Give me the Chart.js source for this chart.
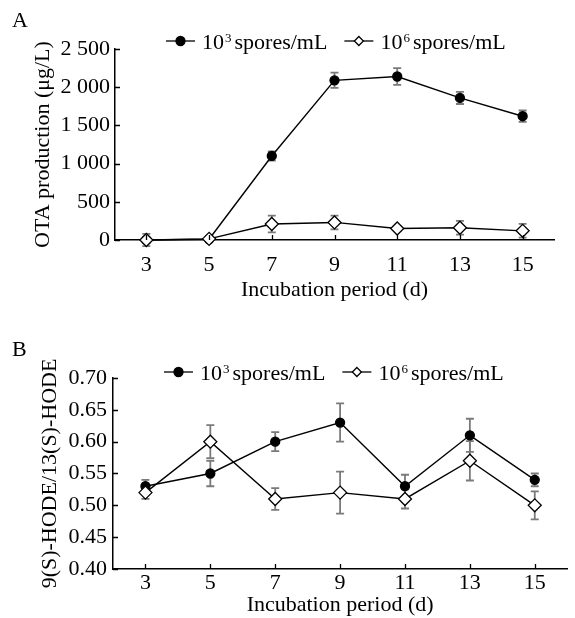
<!DOCTYPE html>
<html>
<head>
<meta charset="utf-8">
<script src="https://cdn.jsdelivr.net/npm/chart.js@4.4.1/dist/chart.umd.min.js"></script>
<style>
  body { margin: 0; background: #fff; width: 575px; height: 618px; position: relative; overflow: hidden; }
  .panel { position: absolute; left: 0; width: 575px; }
</style>
</head>
<body>
<div class="panel" style="top:0;height:305px"><canvas id="chartA"></canvas></div>
<div class="panel" style="top:310px;height:308px"><canvas id="chartB"></canvas></div>
<script>
// incubation days
var days = [3, 5, 7, 9, 11, 13, 15];

// panel A: OTA production (ug/L)
var otaLow = [0, 10, 1100, 2090, 2140, 1860, 1620];
var otaLowErr = [30, 20, 60, 100, 110, 80, 75];
var otaHigh = [0, 15, 210, 230, 150, 160, 120];
var otaHighErr = [80, 30, 110, 90, 30, 90, 90];
var otaTicks = [0, 500, 1000, 1500, 2000, 2500];
var otaTickLabels = ['0', '500', '1 000', '1 500', '2 000', '2 500'];

// panel B: 9(S)-HODE/13(S)-HODE ratio
var ratioLow = [0.53, 0.55, 0.60, 0.63, 0.53, 0.61, 0.54];
var ratioLowErr = [0.01, 0.02, 0.015, 0.03, 0.018, 0.026, 0.01];
var ratioHigh = [0.52, 0.60, 0.51, 0.52, 0.51, 0.57, 0.50];
var ratioHighErr = [0.01, 0.026, 0.017, 0.033, 0.015, 0.031, 0.022];
var ratioTicks = [0.40, 0.45, 0.50, 0.55, 0.60, 0.65, 0.70];
var ratioTickLabels = ['0.40', '0.45', '0.50', '0.55', '0.60', '0.65', '0.70'];

// legend text: base, superscript, rest
var legendLow = ['10', '3', 'spores/mL'];
var legendHigh = ['10', '6', 'spores/mL'];

var FONT = '"Liberation Serif", "Times New Roman", serif';

function drawMarker(ctx, kind, x, y, r) {
  ctx.save();
  ctx.lineWidth = 1.3;
  ctx.strokeStyle = '#000';
  ctx.beginPath();
  if (kind === 'circle') {
    ctx.arc(x, y, r, 0, Math.PI * 2);
    ctx.fillStyle = '#000';
  } else {
    ctx.moveTo(x, y - r);
    ctx.lineTo(x + r, y);
    ctx.lineTo(x, y + r);
    ctx.lineTo(x - r, y);
    ctx.closePath();
    ctx.fillStyle = '#fff';
  }
  ctx.fill();
  ctx.stroke();
  ctx.restore();
}

var decor = {
  id: 'decor',
  // error bars, drawn under the markers
  beforeDatasetsDraw: function(chart) {
    var ctx = chart.ctx, xs = chart.scales.x, ys = chart.scales.y;
    ctx.save();
    ctx.strokeStyle = '#7a7a7a';
    ctx.lineWidth = 1.8;
    chart.data.datasets.forEach(function(ds) {
      ds.data.forEach(function(p, i) {
        var px = xs.getPixelForValue(p.x);
        var top = ys.getPixelForValue(p.y + ds.errors[i]);
        var bot = ys.getPixelForValue(p.y - ds.errors[i]);
        ctx.beginPath();
        ctx.moveTo(px, top); ctx.lineTo(px, bot);
        ctx.moveTo(px - 4, top); ctx.lineTo(px + 4, top);
        ctx.moveTo(px - 4, bot); ctx.lineTo(px + 4, bot);
        ctx.stroke();
      });
    });
    ctx.restore();
  },
  afterDraw: function(chart, args, opts) {
    var ctx = chart.ctx, xs = chart.scales.x, ys = chart.scales.y, a = chart.chartArea;
    ctx.save();
    // inward tick marks
    ctx.strokeStyle = '#000';
    ctx.lineWidth = 1.3;
    ctx.beginPath();
    xs.ticks.forEach(function(t) {
      var px = Math.round(xs.getPixelForValue(t.value)) + 0.5;
      ctx.moveTo(px, a.bottom); ctx.lineTo(px, a.bottom - 5);
    });
    ys.ticks.forEach(function(t) {
      var py = Math.round(ys.getPixelForValue(t.value)) + 0.5;
      ctx.moveTo(a.left, py); ctx.lineTo(a.left + 5, py);
    });
    ctx.stroke();

    // panel letter
    ctx.fillStyle = '#000';
    ctx.font = '22px ' + FONT;
    ctx.textBaseline = 'middle';
    ctx.textAlign = 'left';
    ctx.fillText(opts.letter, 12, opts.letterY);

    // legend: line-with-marker then text
    var x = opts.legendX, y = opts.legendY, base = y + 7.5;
    ctx.textBaseline = 'alphabetic';
    opts.items.forEach(function(it) {
      ctx.beginPath();
      ctx.moveTo(x, y); ctx.lineTo(x + 29, y);
      ctx.stroke();
      drawMarker(ctx, it.marker, x + 14.5, y, 4.5);
      var tx = x + 36;
      ctx.font = '22px ' + FONT;
      ctx.fillText(it.text[0], tx, base);
      tx += ctx.measureText(it.text[0]).width + 1;
      ctx.font = '13px ' + FONT;
      ctx.fillText(it.text[1], tx, base - 6.5);
      tx += ctx.measureText(it.text[1]).width + 3;
      ctx.font = '22px ' + FONT;
      ctx.fillText(it.text[2], tx, base);
      x = tx + ctx.measureText(it.text[2]).width + 17;
    });
    ctx.restore();
  }
};

function makeChart(id, cfg) {
  var datasets = [
    { values: cfg.low, errors: cfg.lowErr, order: 1, pointStyle: 'circle', pointRadius: 4.5,
      pointBackgroundColor: '#000', pointBorderColor: '#000', pointBorderWidth: 1.3 },
    { values: cfg.high, errors: cfg.highErr, order: 0, pointStyle: 'rectRot', pointRadius: 6.5,
      pointBackgroundColor: '#fff', pointBorderColor: '#000', pointBorderWidth: 1.3 }
  ];
  datasets.forEach(function(d) {
    d.data = d.values.map(function(v, i) { return { x: days[i], y: v }; });
    d.borderColor = '#000';
    d.borderWidth = 1.4;
    d.clip = false;
    d.tension = 0;
  });
  return new Chart(document.getElementById(id), {
    type: 'line',
    data: { datasets: datasets },
    plugins: [decor],
    options: {
      responsive: true,
      maintainAspectRatio: false,
      animation: false,
      events: [],
      layout: { padding: { top: cfg.padTop, right: cfg.padRight, left: 0, bottom: 0 } },
      plugins: {
        legend: { display: false },
        tooltip: { enabled: false },
        decor: cfg.decor
      },
      scales: {
        x: {
          type: 'linear', min: 2, max: 16,
          afterBuildTicks: function(s) { s.ticks = days.map(function(v) { return { value: v }; }); },
          afterFit: function(s) { s.height = cfg.xHeight; },
          grid: { display: false, drawTicks: false },
          border: { display: true, color: '#000', width: 1.5 },
          ticks: { color: '#000', padding: cfg.xPad, font: { family: FONT, size: 22 }, maxRotation: 0,
                   callback: function(v) { return String(v); } },
          title: { display: true, text: 'Incubation period (d)', color: '#000',
                   font: { family: FONT, size: 22 }, padding: { top: 0, bottom: cfg.xTitlePad } }
        },
        y: {
          type: 'linear', min: cfg.yTicks[0], max: cfg.yTicks[cfg.yTicks.length - 1],
          afterBuildTicks: function(s) { s.ticks = cfg.yTicks.map(function(v) { return { value: v }; }); },
          afterFit: function(s) { s.width = cfg.yWidth; },
          grid: { display: false, drawTicks: false },
          border: { display: true, color: '#000', width: 1.5 },
          ticks: { color: '#000', padding: cfg.yPad, font: { family: FONT, size: 22 },
                   callback: function(v) {
                     var k = cfg.yTicks.findIndex(function(t) { return Math.abs(t - v) < 1e-9; });
                     return k >= 0 ? cfg.yLabels[k] : '';
                   } },
          title: { display: true, text: cfg.yTitle, color: '#000',
                   font: { family: FONT, size: 22 }, padding: { top: cfg.yTitlePad, bottom: 0 } }
        }
      }
    }
  });
}

var items = [
  { marker: 'circle', text: legendLow },
  { marker: 'diamond', text: legendHigh }
];

makeChart('chartA', {
  low: otaLow, lowErr: otaLowErr, high: otaHigh, highErr: otaHighErr,
  yTicks: otaTicks, yLabels: otaTickLabels, yTitle: 'OTA production (μg/L)',
  padTop: 49, padRight: 21, xHeight: 65, yWidth: 115, xPad: 12, xTitlePad: 2, yPad: 5, yTitlePad: 30,
  decor: { letter: 'A', letterY: 21, legendX: 166, legendY: 41, items: items }
});

makeChart('chartB', {
  low: ratioLow, lowErr: ratioLowErr, high: ratioHigh, highErr: ratioHighErr,
  yTicks: ratioTicks, yLabels: ratioTickLabels, yTitle: '9(S)-HODE/13(S)-HODE',
  padTop: 68, padRight: 2, xHeight: 49, yWidth: 113, xPad: 1, xTitlePad: 0, yPad: 6, yTitlePad: 37,
  decor: { letter: 'B', letterY: 40, legendX: 164, legendY: 62, items: items }
});
</script>
</body>
</html>
